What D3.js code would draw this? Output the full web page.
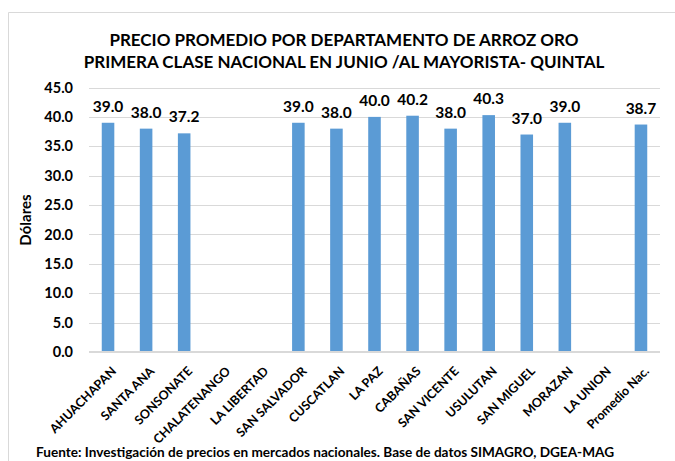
<!DOCTYPE html>
<html>
<head>
<meta charset="utf-8">
<script src="https://cdn.jsdelivr.net/npm/d3@7"></script>
<style>
  html, body { margin: 0; padding: 0; background: #fff; }
  svg { display: block; }
  text { font-family: Lato, "Open Sans", sans-serif; font-weight: bold; fill: #000; }
</style>
</head>
<body>
<svg id="chart" width="675" height="461"></svg>
<script>
// Departamentos y precio promedio (US$ por quintal)
const departamentos = ["AHUACHAPAN", "SANTA ANA", "SONSONATE", "CHALATENANGO", "LA LIBERTAD",
  "SAN SALVADOR", "CUSCATLAN", "LA PAZ", "CABAÑAS", "SAN VICENTE", "USULUTAN",
  "SAN MIGUEL", "MORAZAN", "LA UNION", "Promedio Nac."];
const precios = [39.0, 38.0, 37.2, null, null, 39.0, 38.0, 40.0, 40.2, 38.0, 40.3, 37.0, 39.0, null, 38.7];
const yTicks = [0, 5, 10, 15, 20, 25, 30, 35, 40, 45];
const tituloLineas = ["PRECIO PROMEDIO POR DEPARTAMENTO DE ARROZ ORO",
  "PRIMERA CLASE NACIONAL EN JUNIO /AL MAYORISTA- QUINTAL"];
const ejeY = "Dólares";
const fuente = "Fuente: Investigación de precios en mercados nacionales. Base de datos SIMAGRO, DGEA-MAG";

const svg = d3.select("#chart");
const plot = { left: 89, right: 660, top: 87.5, bottom: 352 };

// Marco del área del gráfico
svg.append("path")
  .attr("d", "M8.5,470 L8.5,12.5 L680,12.5")
  .attr("fill", "none").attr("stroke", "#d9d9d9").attr("stroke-width", 1);

const x = d3.scaleBand()
  .domain(departamentos)
  .range([plot.left, plot.right])
  .paddingInner(0.67)
  .paddingOuter(0.335);

const y = d3.scaleLinear().domain([0, 45]).range([plot.bottom, plot.top]);

// Líneas de cuadrícula
svg.append("g")
  .selectAll("line")
  .data(yTicks.filter(t => t > 0))
  .join("line")
  .attr("x1", plot.left).attr("x2", plot.right)
  .attr("y1", d => Math.round(y(d)) + 0.5).attr("y2", d => Math.round(y(d)) + 0.5)
  .attr("stroke", "#d9d9d9").attr("stroke-width", 1);

// Eje Y
const yAxis = svg.append("g")
  .attr("transform", `translate(${plot.left},0)`)
  .call(d3.axisLeft(y).tickValues(yTicks).tickFormat(d3.format(".1f")).tickSize(0).tickPadding(16));
yAxis.select(".domain").remove();
yAxis.selectAll("text")
  .style("font-size", "14.5px")
  .style("font-family", "Lato, sans-serif")
  .style("font-weight", "bold")
  .attr("fill", "#000");

// Barras
const conValor = departamentos.map((d, i) => ({ d, v: precios[i] })).filter(o => o.v !== null);
svg.append("g")
  .selectAll("rect")
  .data(conValor)
  .join("rect")
  .attr("x", o => x(o.d))
  .attr("width", x.bandwidth())
  .attr("y", o => y(o.v))
  .attr("height", o => y(0) - y(o.v))
  .attr("fill", "#5b9bd5");

// Eje X (línea base)
const xAxis = svg.append("g")
  .attr("transform", `translate(0,${plot.bottom})`)
  .call(d3.axisBottom(x).tickSize(0).tickPadding(0));
xAxis.select(".domain")
  .attr("stroke", "#d9d9d9").attr("stroke-width", 2)
  .attr("d", `M${plot.left},0H${plot.right}`);
xAxis.selectAll(".tick text")
  .attr("text-anchor", "end")
  .attr("dy", null).attr("y", 0)
  .attr("transform", "translate(9,20) rotate(-45)")
  .style("font-size", "12.5px")
  .style("font-family", "Lato, sans-serif")
  .style("font-weight", "bold")
  .attr("fill", "#000");

// Etiquetas de valor
svg.append("g")
  .selectAll("text")
  .data(conValor)
  .join("text")
  .attr("x", o => x(o.d) + x.bandwidth() / 2)
  .attr("y", o => y(o.v) - 11)
  .attr("text-anchor", "middle")
  .style("font-size", "15.5px")
  .text(o => d3.format(".1f")(o.v));

// Título
svg.append("g")
  .selectAll("text")
  .data(tituloLineas)
  .join("text")
  .attr("x", 344)
  .attr("y", (d, i) => 46 + i * 22)
  .attr("text-anchor", "middle")
  .style("font-size", "17px")
  .text(d => d);

// Título del eje Y
svg.append("text")
  .attr("transform", "translate(31,220) rotate(-90)")
  .attr("text-anchor", "middle")
  .style("font-size", "15px")
  .text(ejeY);

// Fuente
svg.append("text")
  .attr("x", 36)
  .attr("y", 457)
  .style("font-size", "13.6px")
  .text(fuente);
</script>
</body>
</html>
